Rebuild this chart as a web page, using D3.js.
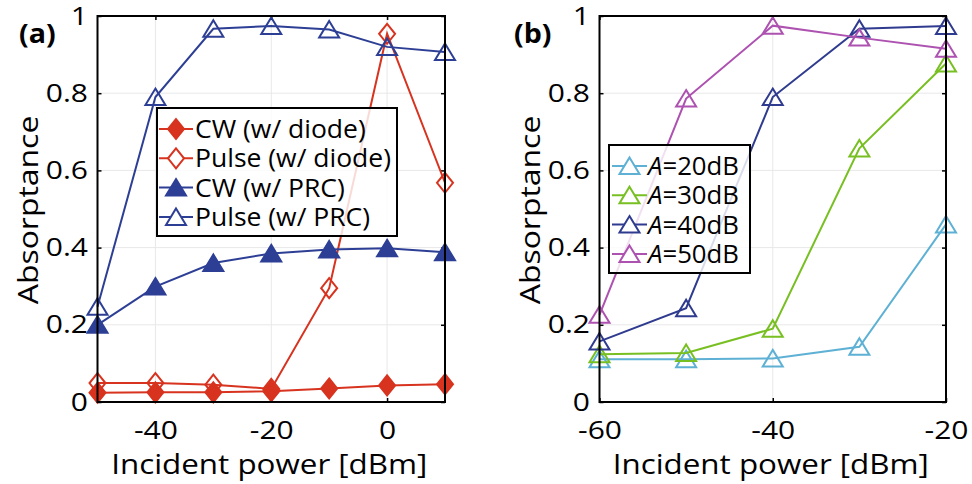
<!DOCTYPE html>
<html>
<head>
<meta charset="utf-8">
<script src="https://cdn.jsdelivr.net/npm/d3@7"></script>
<style>
  body { margin: 0; background: #fff; }
  svg { display: block; }
  text { font-family: "Open Sans", "Noto Sans", sans-serif; fill: #000; }
</style>
</head>
<body>
<div class="svg-container"></div>
<script>
// Data, panel (a)
const powerA = [-50, -40, -30, -20, -10, 0, 10];
const cwDiode = [0.024, 0.025, 0.025, 0.028, 0.035, 0.043, 0.046];
const pulseDiode = [0.049, 0.049, 0.045, 0.034, 0.295, 0.954, 0.568];
const cwPRC = [0.2, 0.299, 0.36, 0.385, 0.395, 0.398, 0.388];
const pulsePRC = [0.247, 0.79, 0.967, 0.974, 0.965, 0.92, 0.907];

// Data, panel (b)
const powerB = [-60, -50, -40, -30, -20];
const a20 = [0.111, 0.111, 0.113, 0.143, 0.46];
const a30 = [0.124, 0.127, 0.19, 0.657, 0.877];
const a40 = [0.157, 0.243, 0.79, 0.967, 0.974];
const a50 = [0.226, 0.786, 0.975, 0.944, 0.915];

const xTicksA = [-40, -20, 0];
const xTicksB = [-60, -40, -20];
const yTicks = [0, 0.2, 0.4, 0.6, 0.8, 1];

const red = '#d7331f';
const blue = '#2d3f95';

const seriesA = [
  {name: 'CW (w/ diode)', values: cwDiode, color: red, shape: 'diamond', filled: true},
  {name: 'Pulse (w/ diode)', values: pulseDiode, color: red, shape: 'diamond', filled: false},
  {name: 'CW (w/ PRC)', values: cwPRC, color: blue, shape: 'triangle', filled: true},
  {name: 'Pulse (w/ PRC)', values: pulsePRC, color: blue, shape: 'triangle', filled: false}
];
const seriesB = [
  {name: '20dB', values: a20, color: '#5eb1d4', shape: 'triangle', filled: false},
  {name: '30dB', values: a30, color: '#78bf22', shape: 'triangle', filled: false},
  {name: '40dB', values: a40, color: '#2e3b8f', shape: 'triangle', filled: false},
  {name: '50dB', values: a50, color: '#ad52b0', shape: 'triangle', filled: false}
];

const W = 972, H = 484;
const svg = d3.select('.svg-container').append('svg')
  .attr('width', W).attr('height', H);

//marker shapes, centred on the point
function markerPath(shape) {
  if (shape === 'diamond') return 'M0,-10L8,0L0,10L-8,0Z';
  return 'M0,-8.5L10,8L-10,8Z';
}

// the original font is a bit wider than Open Sans, so widen the glyphs
function stretch(sel, k) {
  sel.each(function() {
    const w = this.getComputedTextLength();
    if (w > 0) {
      this.setAttribute('textLength', w * k);
      this.setAttribute('lengthAdjust', 'spacingAndGlyphs');
    }
  });
}

function drawPanel(opt) {
  const x = d3.scaleLinear().domain(opt.xDomain).range([opt.left, opt.right]);
  const y = d3.scaleLinear().domain([0, 1]).range([402, 16]);
  const g = svg.append('g');

  // grid
  g.append('g').selectAll('line.gy').data(yTicks.slice(1, -1)).enter().append('line')
    .attr('x1', opt.left).attr('x2', opt.right)
    .attr('y1', d => y(d)).attr('y2', d => y(d))
    .attr('stroke', '#e8e8e8').attr('stroke-width', 1);
  g.append('g').selectAll('line.gx').data(opt.xTicks).enter().append('line')
    .attr('x1', d => x(d)).attr('x2', d => x(d))
    .attr('y1', 16).attr('y2', 402)
    .attr('stroke', '#e8e8e8').attr('stroke-width', 1);

  // axes
  const yAxisL = d3.axisLeft(y).tickValues(yTicks).tickSizeInner(-4).tickSizeOuter(0)
    .tickFormat(d => d3.format('~g')(d)).tickPadding(9.5);
  const yAxisR = d3.axisRight(y).tickValues(yTicks).tickSizeInner(-4).tickSizeOuter(0).tickFormat('');
  const xAxisB = d3.axisBottom(x).tickValues(opt.xTicks).tickSizeInner(-4).tickSizeOuter(0)
    .tickFormat(d => String(d)).tickPadding(19);
  const xAxisT = d3.axisTop(x).tickValues(opt.xTicks).tickSizeInner(-4).tickSizeOuter(0).tickFormat('');

  const axes = [
    g.append('g').attr('transform', `translate(${opt.left},0)`).call(yAxisL),
    g.append('g').attr('transform', `translate(${opt.right},0)`).call(yAxisR),
    g.append('g').attr('transform', 'translate(0,402)').call(xAxisB),
    g.append('g').attr('transform', 'translate(0,16)').call(xAxisT)
  ];
  axes.forEach(a => {
    a.select('.domain').remove();
    a.selectAll('line').attr('stroke', '#000').attr('stroke-width', 1.5);
    a.selectAll('text').style('font-size', '25px').style('font-family', '"Open Sans", sans-serif')
      .attr('fill', '#000').call(stretch, 1.2);
  });

  // series
  opt.series.forEach(s => {
    const pts = s.values.map((v, i) => [x(opt.xVals[i]), y(v)]);
    g.append('path')
      .attr('d', d3.line()(pts))
      .attr('fill', 'none').attr('stroke', s.color).attr('stroke-width', 2);
    g.append('g').selectAll('path').data(pts).enter().append('path')
      .attr('d', markerPath(s.shape))
      .attr('transform', d => `translate(${d[0]},${d[1]})`)
      .attr('fill', s.filled ? s.color : 'none')
      .attr('stroke', s.color).attr('stroke-width', 2)
      .attr('stroke-linejoin', 'miter');
  });

  // frame
  g.append('rect').attr('x', opt.left).attr('y', 16)
    .attr('width', opt.right - opt.left).attr('height', 386)
    .attr('fill', 'none').attr('stroke', '#000').attr('stroke-width', 2);

  // axis labels
  g.append('text').attr('x', (opt.left + opt.right) / 2 - 2).attr('y', 474)
    .attr('text-anchor', 'middle').style('font-size', '28px')
    .text('Incident power [dBm]').call(stretch, 1.12);
  g.append('text')
    .attr('transform', `translate(${opt.left - 60},210) rotate(-90)`)
    .attr('text-anchor', 'middle').style('font-size', '28px')
    .text('Absorptance').call(stretch, 1.14);

  // panel tag
  g.append('text').attr('x', opt.tagX).attr('y', 43)
    .style('font-size', '26px').style('font-weight', 'bold')
    .text(opt.tag).call(stretch, 1.1);

  // legend
  const L = opt.legend;
  const lg = g.append('g').attr('transform', `translate(${L.x},${L.y})`);
  lg.append('rect').attr('width', L.w).attr('height', L.h)
    .attr('fill', '#fff').attr('fill-opacity', 0.82)
    .attr('stroke', '#000').attr('stroke-width', 2);
  opt.series.forEach((s, i) => {
    const cy = 21 + i * 29.3;
    const row = lg.append('g').attr('transform', `translate(0,${cy})`);
    row.append('line').attr('x1', L.lx0).attr('x2', L.lx1)
      .attr('stroke', s.color).attr('stroke-width', 2);
    row.append('path').attr('d', markerPath(s.shape))
      .attr('transform', `translate(${(L.lx0 + L.lx1) / 2},0)`)
      .attr('fill', s.filled ? s.color : '#fff')
      .attr('stroke', s.color).attr('stroke-width', 2);
    const t = row.append('text').attr('x', L.tx).attr('y', 9).style('font-size', '25px');
    if (L.italicA) {
      t.append('tspan').style('font-style', 'italic').text('A');
      t.append('tspan').text('=' + s.name);
    } else {
      t.text(s.name);
    }
    t.call(stretch, L.k);
  });
}

drawPanel({
  left: 97.5, right: 445, xDomain: [-50, 10], xTicks: xTicksA, xVals: powerA,
  series: seriesA, tag: '(a)', tagX: 19,
  legend: {x: 157, y: 108, w: 240, h: 128, lx0: 2, lx1: 36, tx: 38, italicA: false, k: 1.06}
});
drawPanel({
  left: 599.5, right: 946, xDomain: [-60, -20], xTicks: xTicksB, xVals: powerB,
  series: seriesB, tag: '(b)', tagX: 514,
  legend: {x: 609, y: 145, w: 141, h: 128, lx0: 3, lx1: 38, tx: 39, italicA: true, k: 1.03}
});
</script>
</body>
</html>
